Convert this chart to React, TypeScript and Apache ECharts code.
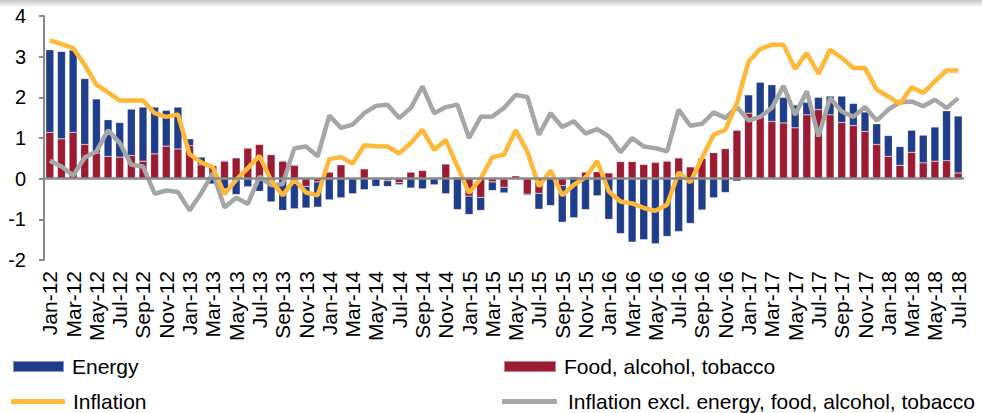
import React, { useEffect, useRef } from "react";
import * as echarts from "echarts";

const months = [
  "Jan-12","Feb-12","Mar-12","Apr-12","May-12","Jun-12","Jul-12","Aug-12","Sep-12","Oct-12","Nov-12","Dec-12",
  "Jan-13","Feb-13","Mar-13","Apr-13","May-13","Jun-13","Jul-13","Aug-13","Sep-13","Oct-13","Nov-13","Dec-13",
  "Jan-14","Feb-14","Mar-14","Apr-14","May-14","Jun-14","Jul-14","Aug-14","Sep-14","Oct-14","Nov-14","Dec-14",
  "Jan-15","Feb-15","Mar-15","Apr-15","May-15","Jun-15","Jul-15","Aug-15","Sep-15","Oct-15","Nov-15","Dec-15",
  "Jan-16","Feb-16","Mar-16","Apr-16","May-16","Jun-16","Jul-16","Aug-16","Sep-16","Oct-16","Nov-16","Dec-16",
  "Jan-17","Feb-17","Mar-17","Apr-17","May-17","Jun-17","Jul-17","Aug-17","Sep-17","Oct-17","Nov-17","Dec-17",
  "Jan-18","Feb-18","Mar-18","Apr-18","May-18","Jun-18","Jul-18",
];

const energy = [
  2.03, 2.15, 2.02, 1.62, 1.33, 0.90, 0.85, 1.14, 1.33, 1.15, 0.88, 1.03,
  0.17, 0.19, -0.13, -0.25, -0.39, -0.20, -0.31, -0.57, -0.78, -0.74, -0.53, -0.62,
  -0.52, -0.47, -0.37, -0.27, -0.19, -0.14, -0.05, -0.23, -0.25, -0.15, -0.37, -0.76,
  -0.45, -0.32, -0.21, -0.14, 0.0, -0.03, -0.39, -0.66, -0.90, -0.96, -0.76, -0.42,
  -1.00, -1.35, -1.56, -1.50, -1.60, -1.42, -1.30, -1.10, -0.77, -0.47, -0.34, -0.06,
  0.45, 0.85, 0.90, 0.63, 0.56, 0.31, 0.30, 0.46, 0.65, 0.54, 0.48, 0.51,
  0.51, 0.46, 0.54, 0.68, 0.84, 1.23, 1.40,
];

const food = [
  1.14, 0.98, 1.14, 0.84, 0.63, 0.55, 0.53, 0.57, 0.43, 0.61, 0.80, 0.73,
  0.81, 0.34, 0.32, 0.43, 0.51, 0.75, 0.84, 0.59, 0.43, 0.33, -0.19, -0.08,
  0.16, 0.34, 0.0, 0.24, 0.02, -0.05, -0.10, 0.16, 0.20, 0.0, 0.36, 0.04,
  -0.43, -0.46, -0.08, -0.21, 0.07, -0.38, -0.36, 0.0, -0.17, 0.05, 0.16, 0.17,
  0.14, 0.42, 0.42, 0.35, 0.40, 0.43, 0.51, 0.29, 0.50, 0.64, 0.74, 1.19,
  1.61, 1.52, 1.41, 1.37, 1.25, 1.57, 1.70, 1.57, 1.38, 1.31, 1.16, 0.84,
  0.55, 0.33, 0.65, 0.39, 0.43, 0.44, 0.14,
];

const inflation = [
  3.40, 3.31, 3.21, 2.80, 2.31, 2.12, 1.92, 1.92, 1.92, 1.61, 1.52, 1.58,
  0.60, 0.40, 0.28, -0.38, -0.03, 0.26, 0.56, -0.04, -0.41, -0.02, -0.34, -0.41,
  0.48, 0.53, 0.37, 0.82, 0.80, 0.79, 0.62, 0.88, 1.20, 0.71, 0.95, 0.30,
  -0.35, 0.0, 0.53, 0.59, 1.19, 0.67, -0.19, 0.20, -0.41, -0.15, 0.03, 0.43,
  -0.31, -0.56, -0.61, -0.72, -0.79, -0.64, 0.15, -0.09, 0.51, 1.08, 1.20, 1.85,
  2.88, 3.19, 3.29, 3.29, 2.70, 3.09, 2.58, 3.17, 2.97, 2.72, 2.72, 2.19,
  2.02, 1.84, 2.25, 2.11, 2.39, 2.66, 2.66,
];

const core = [
  0.44, 0.30, 0.08, 0.52, 0.67, 1.19, 0.88, 0.34, 0.30, -0.37, -0.29, -0.33,
  -0.78, -0.36, 0.14, -0.71, -0.47, -0.62, 0.05, -0.16, -0.13, 0.75, 0.79, 0.55,
  1.55, 1.25, 1.33, 1.61, 1.79, 1.82, 1.49, 1.74, 2.27, 1.61, 1.76, 1.82,
  1.00, 1.52, 1.53, 1.74, 2.06, 2.01, 1.08, 1.61, 1.27, 1.41, 1.11, 1.22,
  1.04, 0.65, 1.00, 0.79, 0.75, 0.67, 1.70, 1.30, 1.35, 1.63, 1.49, 1.76,
  1.43, 1.52, 1.74, 2.28, 1.57, 2.15, 1.04, 1.98, 1.65, 1.52, 1.76, 1.43,
  1.70, 1.88, 1.90, 1.78, 1.94, 1.74, 1.98,
];

const FONT = "'Liberation Sans', Arial, sans-serif";
const BLUE = "#1f3d8a";
const RED = "#9b1b33";
const ORANGE = "#ffb838";
const GREY = "#a6a6a6";
const AXIS = "#8a8a8a";

export default function App() {
  const ref = useRef<HTMLDivElement>(null);

  useEffect(() => {
    if (!ref.current) return;
    const chart = echarts.init(ref.current, null, { renderer: "svg" });
    const legendText = { fontFamily: FONT, fontSize: 21, color: "#000", padding: [0, 0, 0, 3] };
    chart.setOption({
      animation: false,
      backgroundColor: "#fff",
      graphic: [
        {
          type: "rect",
          shape: { x: 0, y: 0, width: 982, height: 7 },
          style: {
            fill: new echarts.graphic.LinearGradient(0, 0, 0, 1, [
              { offset: 0, color: "#c4c4c4" },
              { offset: 1, color: "#ffffff" },
            ]),
          },
          silent: true,
        },
      ],
      grid: { left: 44, right: 18, top: 16, bottom: 153, containLabel: false, outerBoundsMode: "none" },
      legend: [
        { data: [{ name: "Energy", icon: "rect" }], left: 12, top: 356, itemWidth: 51, itemHeight: 11, textStyle: legendText, padding: 0 },
        { data: [{ name: "Food, alcohol, tobacco", icon: "rect" }], left: 503, top: 356, itemWidth: 52, itemHeight: 11, textStyle: legendText, padding: 0 },
        { data: [{ name: "Inflation", icon: "roundRect" }], left: 11, top: 391, itemWidth: 54, itemHeight: 5, textStyle: legendText, padding: 0 },
        { data: [{ name: "Inflation excl. energy, food, alcohol, tobacco", icon: "roundRect" }], left: 502, top: 391, itemWidth: 55, itemHeight: 5, textStyle: { ...legendText, padding: [0, 0, 0, 6] }, padding: 0 },
      ],
      xAxis: {
        type: "category",
        data: months,
        boundaryGap: true,
        axisLine: { show: false, onZero: false },
        axisTick: { show: false },
        axisLabel: {
          interval: 1,
          rotate: 90,
          margin: 11,
          fontFamily: FONT,
          fontSize: 21,
          color: "#000",
        },
      },
      yAxis: {
        type: "value",
        min: -2,
        max: 4,
        interval: 1,
        axisLine: { show: true, lineStyle: { color: AXIS, width: 2 } },
        axisTick: { show: true, length: 5, lineStyle: { color: AXIS, width: 2 } },
        splitLine: { show: false },
        axisLabel: { fontFamily: FONT, fontSize: 20, color: "#000", margin: 18 },
      },
      series: [
        {
          name: "Food, alcohol, tobacco",
          type: "bar",
          stack: "contrib",
          data: food,
          barWidth: 8,
          itemStyle: { color: RED, borderColor: "rgba(255,255,255,0.45)", borderWidth: 0.5 },
          markLine: {
            silent: true,
            symbol: ["none", "none"],
            label: { show: false },
            lineStyle: { color: AXIS, width: 2.5, type: "solid" },
            data: [{ yAxis: 0 }],
          },
        },
        {
          name: "Energy",
          type: "bar",
          stack: "contrib",
          data: energy,
          barWidth: 8,
          itemStyle: { color: BLUE, borderColor: "rgba(255,255,255,0.45)", borderWidth: 0.5 },
        },
        {
          name: "Inflation excl. energy, food, alcohol, tobacco",
          type: "line",
          data: core,
          symbol: "none",
          color: GREY,
          itemStyle: { color: GREY },
          lineStyle: { color: GREY, width: 4.5 },
          z: 3,
        },
        {
          name: "Inflation",
          type: "line",
          data: inflation,
          symbol: "none",
          color: ORANGE,
          itemStyle: { color: ORANGE },
          lineStyle: { color: ORANGE, width: 4.5 },
          z: 4,
        },
      ],
    });
    return () => chart.dispose();
  }, []);

  return (
    <div
      ref={ref}
      style={{ position: "fixed", left: 0, top: 0, width: 982, height: 413, background: "#fff" }}
    />
  );
}
